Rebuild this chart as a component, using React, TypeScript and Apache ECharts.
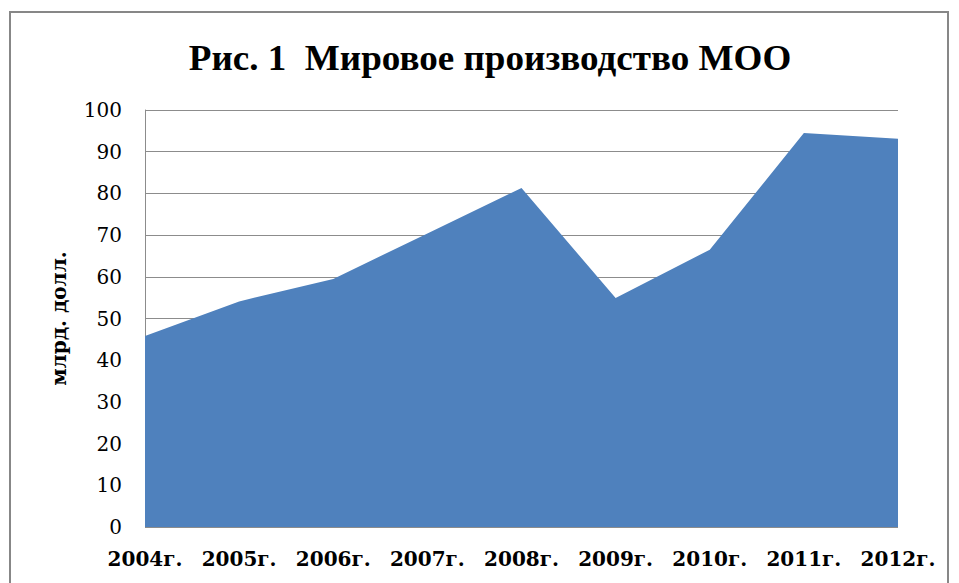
import React, { useEffect, useRef } from "react";
import * as echarts from "echarts";

const categories = ["2004г.", "2005г.", "2006г.", "2007г.", "2008г.", "2009г.", "2010г.", "2011г.", "2012г."];
const values = [45.8, 54.1, 59.5, 70.4, 81.3, 54.9, 66.5, 94.5, 93.1];
const titleText = "Рис. 1  Мировое производство МОО";
const yAxisName = "млрд. долл.";

const SERIF = "'Liberation Serif', 'Times New Roman', serif";
const WIDE_SERIF = "'DejaVu Serif', 'Liberation Serif', serif";

export default function App() {
  const ref = useRef<HTMLDivElement>(null);
  useEffect(() => {
    document.body.style.margin = "0";
    const chart = echarts.init(ref.current!, undefined, { renderer: "svg" });
    chart.setOption({
      animation: false,
      backgroundColor: "#ffffff",
      grid: { left: 145, right: 61, top: 110, bottom: 56 },
      graphic: [
        {
          type: "rect",
          shape: { x: 10, y: 12, width: 938, height: 620 },
          style: { fill: "none", stroke: "#878787", lineWidth: 2 },
          z: 100,
        },
        {
          type: "text",
          x: 490,
          y: 58,
          scaleX: 1.06,
          style: {
            text: titleText,
            font: `bold 35px ${SERIF}`,
            fill: "#000",
            textAlign: "center",
            textVerticalAlign: "middle",
          },
        },
      ],
      xAxis: {
        type: "category",
        data: categories,
        boundaryGap: false,
        axisLine: { show: false },
        axisTick: { show: false },
        axisLabel: {
          interval: 0,
          hideOverlap: false,
          color: "#000",
          fontFamily: WIDE_SERIF,
          fontWeight: "bold",
          fontSize: 20,
          margin: 22,
        },
      },
      yAxis: {
        type: "value",
        min: 0,
        max: 100,
        interval: 10,
        name: yAxisName,
        nameLocation: "middle",
        nameGap: 76,
        nameTextStyle: { color: "#000", fontFamily: WIDE_SERIF, fontWeight: "bold", fontSize: 20 },
        axisLine: { show: true, lineStyle: { color: "#8c8c8c", width: 1 } },
        axisTick: { show: false },
        axisLabel: { color: "#000", fontFamily: WIDE_SERIF, fontSize: 20, margin: 23 },
        splitLine: { show: true, lineStyle: { color: "#8c8c8c", width: 1 } },
      },
      series: [
        {
          type: "line",
          data: values,
          showSymbol: false,
          lineStyle: { width: 0, color: "#4f81bd" },
          areaStyle: { color: "#4f81bd", opacity: 1 },
          itemStyle: { color: "#4f81bd" },
        },
      ],
    });
    return () => chart.dispose();
  }, []);
  return <div ref={ref} style={{ position: "fixed", left: 0, top: 0, width: 959, height: 583 }} />;
}
